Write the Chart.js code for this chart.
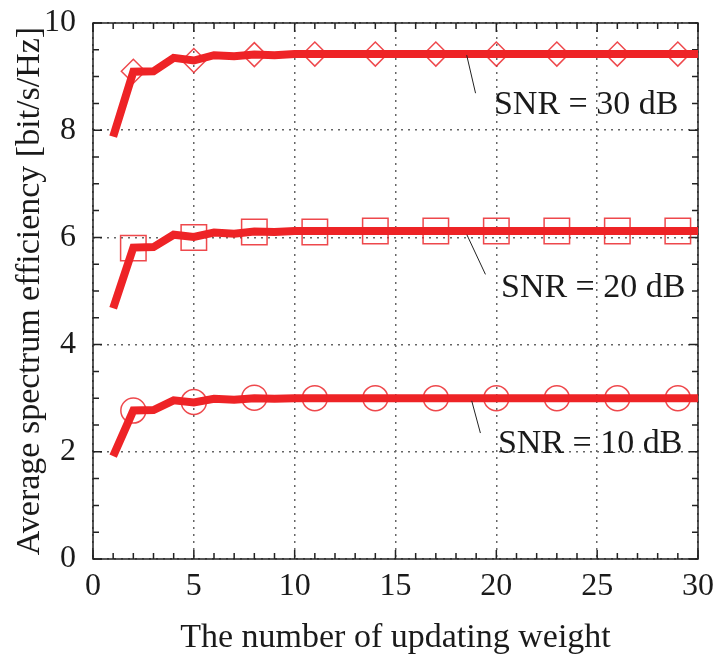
<!DOCTYPE html>
<html>
<head>
    <title>Average spectrum efficiency</title>
    <script src="https://cdn.jsdelivr.net/npm/chart.js"></script>
    <style>
        body { margin: 0; background: #fff; }
    </style>
</head>
<body>
    <canvas id="effChart" width="718" height="658"></canvas>

    <script>
        // x: number of updating weight
        const steps = [1,2,3,4,5,6,7,8,9,10,11,12,13,14,15,16,17,18,19,20,21,22,23,24,25,26,27,28,29,30];

        // averaged spectrum efficiency curves [bit/s/Hz]
        const snr30 = [7.88,9.09,9.10,9.35,9.30,9.40,9.38,9.41,9.40,9.42,9.42,9.42,9.42,9.42,9.42,9.42,9.42,9.42,9.42,9.42,9.42,9.42,9.42,9.42,9.42,9.42,9.42,9.42,9.42,9.42];
        const snr20 = [4.68,5.81,5.82,6.05,6.01,6.09,6.07,6.11,6.10,6.12,6.12,6.12,6.12,6.12,6.12,6.12,6.12,6.12,6.12,6.12,6.12,6.12,6.12,6.12,6.12,6.12,6.12,6.12,6.12,6.12];
        const snr10 = [1.92,2.77,2.78,2.96,2.92,2.99,2.97,3.00,2.99,3.00,3.00,3.00,3.00,3.00,3.00,3.00,3.00,3.00,3.00,3.00,3.00,3.00,3.00,3.00,3.00,3.00,3.00,3.00,3.00,3.00];

        // marker samples
        const markerSteps = [2,5,8,11,14,17,20,23,26,29];
        const mark30 = [9.10,9.30,9.41,9.42,9.42,9.42,9.42,9.42,9.42,9.42];
        const mark20 = [5.80,6.00,6.10,6.10,6.12,6.12,6.12,6.12,6.12,6.12];
        const mark10 = [2.77,2.93,3.01,3.00,3.00,3.00,3.00,3.00,3.00,3.00];

        // curve labels: text, text position, leader line start / end
        const labelTexts = ['SNR = 30 dB', 'SNR = 20 dB', 'SNR = 10 dB'];
        const labelPos = [[19.88, 8.47], [20.23, 5.05], [20.08, 2.14]];
        const leaderFrom = [[18.53, 9.40], [18.54, 6.05], [18.78, 2.95]];
        const leaderTo = [[18.97, 8.69], [19.46, 5.31], [19.21, 2.35]];

        const RED = '#ee2326';
        const SERIF = '"Liberation Serif", "Times New Roman", serif';

        const toPoints = (xs, ys) => xs.map((x, i) => ({ x: x, y: ys[i] }));

        function lineSet(ys) {
            return {
                data: toPoints(steps, ys),
                borderColor: RED,
                borderWidth: 8,
                pointRadius: 0,
                showLine: true,
                tension: 0,
                borderJoinStyle: 'miter',
                order: 1
            };
        }

        function markerSet(ys, style, r) {
            return {
                data: toPoints(markerSteps, ys),
                showLine: false,
                pointStyle: style,
                pointRadius: r,
                pointHoverRadius: r,
                pointBorderColor: 'rgba(235,40,45,0.85)',
                pointBackgroundColor: 'rgba(0,0,0,0)',
                pointBorderWidth: 1.5,
                order: 2
            };
        }

        // frame on all four sides with inward minor ticks
        const framePlugin = {
            id: 'frame',
            beforeDatasetsDraw(chart) {
                const { ctx, chartArea: a, scales: { x, y } } = chart;
                ctx.save();
                ctx.strokeStyle = '#222';
                ctx.lineWidth = 1.5;
                ctx.beginPath();
                for (let v = 0; v <= 30; v += 1) {
                    const px = x.getPixelForValue(v);
                    const len = v % 5 === 0 ? 9 : 6;
                    ctx.moveTo(px, a.bottom); ctx.lineTo(px, a.bottom - len);
                    ctx.moveTo(px, a.top); ctx.lineTo(px, a.top + len);
                }
                for (let v = 0; v <= 10; v += 0.5) {
                    const py = y.getPixelForValue(v);
                    const len = v % 2 === 0 ? 9 : 6;
                    ctx.moveTo(a.left, py); ctx.lineTo(a.left + len, py);
                    ctx.moveTo(a.right, py); ctx.lineTo(a.right - len, py);
                }
                ctx.stroke();
                ctx.strokeRect(a.left, a.top, a.right - a.left, a.bottom - a.top);
                ctx.restore();
            }
        };

        // curve labels with leader lines
        const labelPlugin = {
            id: 'curveLabels',
            afterDraw(chart) {
                const { ctx, scales: { x, y } } = chart;
                ctx.save();
                ctx.strokeStyle = '#222';
                ctx.lineWidth = 1;
                ctx.fillStyle = '#1a1a1a';
                ctx.font = '34px ' + SERIF;
                ctx.textAlign = 'left';
                ctx.textBaseline = 'middle';
                labelTexts.forEach((t, i) => {
                    ctx.beginPath();
                    ctx.moveTo(x.getPixelForValue(leaderFrom[i][0]), y.getPixelForValue(leaderFrom[i][1]));
                    ctx.lineTo(x.getPixelForValue(leaderTo[i][0]), y.getPixelForValue(leaderTo[i][1]));
                    ctx.stroke();
                    ctx.fillText(t, x.getPixelForValue(labelPos[i][0]), y.getPixelForValue(labelPos[i][1]));
                });
                ctx.restore();
            }
        };

        const ctx = document.getElementById('effChart').getContext('2d');
        new Chart(ctx, {
            type: 'scatter',
            data: {
                datasets: [
                    lineSet(snr30), lineSet(snr20), lineSet(snr10),
                    markerSet(mark30, 'rectRot', 12),
                    markerSet(mark20, 'rect', 18),
                    markerSet(mark10, 'circle', 12.5)
                ]
            },
            options: {
                responsive: false,
                animation: false,
                layout: { padding: { left: 0, right: 20, top: 23, bottom: 0 } },
                plugins: {
                    legend: { display: false },
                    tooltip: { enabled: false }
                },
                scales: {
                    x: {
                        type: 'linear',
                        min: 0,
                        max: 30,
                        ticks: {
                            stepSize: 5,
                            padding: 0,
                            color: '#1a1a1a',
                            font: { family: SERIF, size: 32 }
                        },
                        grid: {
                            color: '#666',
                            lineWidth: 1.5,
                            drawTicks: true,
                            tickLength: 8,
                            tickColor: 'rgba(0,0,0,0)'
                        },
                        border: { display: false, dash: [2, 5] },
                        title: {
                            display: true,
                            text: 'The number of updating weight',
                            color: '#1a1a1a',
                            font: { family: SERIF, size: 34 },
                            padding: { top: 4, bottom: 0 }
                        },
                        afterFit(scale) { scale.height = 99; }
                    },
                    y: {
                        min: 0,
                        max: 10,
                        ticks: {
                            stepSize: 2,
                            padding: 0,
                            color: '#1a1a1a',
                            font: { family: SERIF, size: 32 }
                        },
                        grid: {
                            color: '#666',
                            lineWidth: 1.5,
                            drawTicks: true,
                            tickLength: 17,
                            tickColor: 'rgba(0,0,0,0)'
                        },
                        border: { display: false, dash: [2, 5] },
                        title: {
                            display: true,
                            text: 'Average spectrum efficiency [bit/s/Hz]',
                            color: '#1a1a1a',
                            font: { family: SERIF, size: 34 },
                            padding: { top: 10, bottom: 0 }
                        },
                        afterFit(scale) { scale.width = 93; }
                    }
                }
            },
            plugins: [framePlugin, labelPlugin]
        });
    </script>
</body>
</html>
